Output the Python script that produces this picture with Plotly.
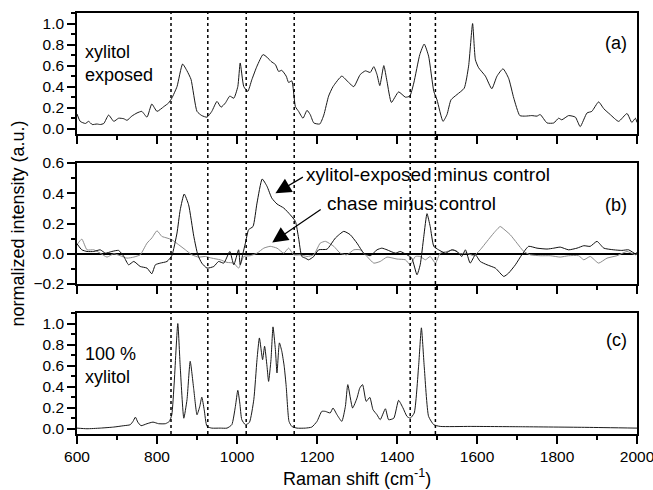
import plotly.graph_objects as go
from plotly.subplots import make_subplots

# ---------------- data ----------------
# (a) xylitol exposed
a_x = [600, 608, 621, 629, 638, 650, 658, 667, 679, 692, 704, 717, 725, 737, 750, 762, 775, 787, 800, 817,
       829, 837, 850, 864, 875, 885, 900, 912, 925, 937, 950, 960, 971, 982, 992, 1002, 1008, 1017, 1027, 1037,
       1050, 1065, 1075, 1085, 1096, 1104, 1112, 1123, 1129, 1137, 1146, 1154, 1165, 1175, 1183, 1192, 1207, 1217,
       1229, 1240, 1262, 1279, 1292, 1308, 1321, 1333, 1342, 1350, 1357, 1367, 1375, 1386, 1404, 1421, 1432, 1442,
       1457, 1468, 1479, 1492, 1500, 1515, 1525, 1535, 1550, 1568, 1579, 1589, 1596, 1604, 1621, 1637, 1650, 1665,
       1679, 1692, 1707, 1721, 1737, 1750, 1758, 1775, 1792, 1804, 1812, 1829, 1846, 1858, 1875, 1887, 1904, 1917,
       1933, 1954, 1975, 1987, 1996, 2000]
a_y = [0.14, 0.07, 0.05, 0.07, 0.04, 0.045, 0.04, 0.05, 0.13, 0.07, 0.10, 0.095, 0.08, 0.12, 0.15, 0.165, 0.11, 0.235, 0.165, 0.21,
       0.245, 0.29, 0.40, 0.615, 0.55, 0.47, 0.165, 0.125, 0.11, 0.165, 0.26, 0.205, 0.245, 0.31, 0.29, 0.40, 0.625, 0.40, 0.355, 0.465,
       0.595, 0.705, 0.68, 0.64, 0.61, 0.545, 0.555, 0.50, 0.44, 0.455, 0.21, 0.165, 0.10, 0.175, 0.135, 0.055, 0.045, 0.13,
       0.31, 0.40, 0.50, 0.44, 0.40, 0.515, 0.55, 0.535, 0.59, 0.515, 0.41, 0.60, 0.45, 0.25, 0.35, 0.30, 0.31, 0.435,
       0.705, 0.805, 0.69, 0.355, 0.275, 0.07, 0.135, 0.275, 0.325, 0.385, 0.595, 1.0, 0.655, 0.58, 0.50, 0.38, 0.50, 0.57,
       0.48, 0.29, 0.125, 0.12, 0.125, 0.12, 0.135, 0.055, 0.055, 0.10, 0.085, 0.125, 0.11, 0.02, 0.15, 0.165, 0.255, 0.19,
       0.135, 0.07, 0.145, 0.06, 0.10, 0.06]

# (b) xylitol-exposed minus control
b1_x = [600, 612, 625, 642, 658, 671, 687, 704, 717, 729, 742, 758, 775, 787, 796, 808, 825, 837, 850, 858,
        868, 879, 892, 902, 912, 925, 942, 954, 967, 982, 992, 1004, 1008, 1015, 1021, 1029, 1040, 1050, 1063, 1075,
        1087, 1100, 1117, 1133, 1146, 1154, 1162, 1171, 1179, 1192, 1204, 1225, 1246, 1267, 1283, 1300, 1317, 1333,
        1350, 1362, 1375, 1396, 1408, 1425, 1437, 1450, 1458, 1467, 1475, 1483, 1492, 1504, 1521, 1537, 1550, 1562,
        1571, 1583, 1596, 1608, 1625, 1646, 1667, 1679, 1696, 1712, 1729, 1750, 1775, 1792, 1808, 1829, 1850, 1867,
        1883, 1900, 1917, 1942, 1962, 1979, 1996, 2000]
b1_y = [0.066, 0.026, 0.015, 0.015, 0.026, 0.004, 0.015, 0.022, -0.018, -0.073, -0.051, -0.084, -0.095, -0.132, -0.073, -0.062, -0.051, -0.013, 0.137, 0.29,
        0.395, 0.324, 0.115, -0.007, -0.062, -0.095, -0.084, -0.051, -0.062, 0.015, -0.073, 0.026, -0.073, 0.004, 0.07, 0.159, 0.18, 0.335, 0.494, 0.446,
        0.368, 0.329, 0.302, 0.258, 0.214, 0.104, -0.018, -0.029, -0.04, -0.018, 0.026, 0.03, 0.104, 0.148, 0.126, 0.07, 0.004, -0.013,
        0.026, 0.037, 0.026, 0.004, 0.015, -0.007, -0.029, -0.139, -0.073, 0.115, 0.265, 0.18, 0.049, 0.026, 0.004, 0.026, 0.015, -0.018,
        0.026, -0.062, -0.007, -0.051, -0.073, -0.095, -0.15, -0.128, -0.073, -0.007, 0.049, 0.037, 0.031, 0.037, 0.044, 0.026, 0.037, 0.053,
        0.049, 0.082, 0.037, 0.026, 0.022, 0.026, 0.0, 0.01]

# (b) chase minus control
b2_x = [600, 612, 625, 642, 658, 675, 692, 708, 725, 742, 758, 775, 787, 800, 812, 825, 837, 854, 871, 887,
        904, 921, 937, 958, 975, 992, 1004, 1017, 1033, 1050, 1067, 1083, 1100, 1117, 1129, 1142, 1158, 1175, 1192, 1208,
        1221, 1242, 1258, 1275, 1292, 1308, 1325, 1342, 1358, 1375, 1400, 1421, 1433, 1446, 1458, 1471, 1483, 1496, 1508,
        1525, 1542, 1558, 1575, 1592, 1608, 1625, 1642, 1658, 1667, 1683, 1700, 1717, 1733, 1758, 1783, 1808, 1829, 1854,
        1867, 1883, 1904, 1925, 1950, 1975, 1996, 2000]
b2_y = [0.06, 0.097, 0.026, 0.026, 0.004, -0.022, 0.0, -0.013, -0.029, -0.022, -0.007, 0.07, 0.104, 0.152, 0.115, 0.104, 0.093, 0.06, 0.026, -0.007,
        -0.022, -0.018, -0.029, -0.04, -0.057, -0.062, -0.095, -0.018, -0.013, 0.004, 0.037, 0.049, 0.037, 0.004, 0.037, -0.007, -0.007, -0.018, -0.007, 0.07,
        0.082, 0.049, 0.004, -0.007, 0.026, 0.026, -0.018, -0.062, -0.051, -0.022, -0.035, -0.04, -0.073, -0.018, -0.018, -0.04, -0.018, -0.062, 0.004,
        0.015, 0.026, 0.0, 0.004, -0.013, 0.026, 0.082, 0.137, 0.18, 0.163, 0.126, 0.07, 0.015, -0.007, -0.013, -0.013, -0.022, -0.013, -0.013,
        -0.04, -0.018, -0.062, -0.029, -0.013, 0.015, -0.007, 0.0]

# (c) 100 % xylitol
c_x = [600, 625, 658, 692, 717, 733, 740, 746, 752, 760, 775, 790, 804, 821, 831, 837, 843, 852, 858, 867,
       875, 883, 892, 900, 907, 912, 918, 925, 937, 958, 975, 987, 996, 1002, 1007, 1012, 1021, 1031, 1042, 1050,
       1056, 1064, 1069, 1075, 1079, 1085, 1090, 1096, 1100, 1106, 1112, 1118, 1123, 1130, 1137, 1150, 1171, 1187, 1200,
       1212, 1221, 1233, 1240, 1250, 1262, 1271, 1277, 1289, 1300, 1307, 1314, 1323, 1332, 1340, 1350, 1358, 1371, 1379,
       1392, 1404, 1415, 1425, 1433, 1443, 1454, 1461, 1468, 1479, 1492, 1508, 1583, 1708, 1875, 2000]
c_y = [0.006, 0.0, 0.006, 0.016, 0.029, 0.038, 0.07, 0.11, 0.063, 0.029, 0.048, 0.063, 0.048, 0.048, 0.07, 0.133, 0.435, 1.0, 0.594, 0.10,
       0.276, 0.641, 0.371, 0.133, 0.213, 0.30, 0.181, 0.022, 0.006, 0.006, 0.006, 0.038, 0.213, 0.365, 0.244, 0.086, 0.038, 0.06, 0.276, 0.657,
       0.863, 0.657, 0.784, 0.594, 0.45, 0.657, 0.968, 0.752, 0.53, 0.816, 0.737, 0.594, 0.403, 0.07, 0.022, 0.006, 0.006, 0.016, 0.07,
       0.165, 0.165, 0.15, 0.197, 0.133, 0.07, 0.213, 0.419, 0.197, 0.292, 0.387, 0.419, 0.26, 0.298, 0.181, 0.133, 0.086, 0.19, 0.086,
       0.10, 0.27, 0.197, 0.117, 0.10, 0.149, 0.594, 0.959, 0.594, 0.117, 0.038, 0.022, 0.022, 0.019, 0.013, 0.006]

marker_lines = [835, 927, 1023, 1143, 1433, 1496]
x_ticks = [600, 800, 1000, 1200, 1400, 1600, 1800, 2000]

FONT = "Arial, Liberation Sans, sans-serif"

fig = make_subplots(rows=3, cols=1, shared_xaxes=False, vertical_spacing=29/421)

line_kw = dict(shape="spline", smoothing=0.5)
fig.add_trace(go.Scatter(x=a_x, y=a_y, mode="lines", line=dict(color="#1a1a1a", width=1, **line_kw), showlegend=False), row=1, col=1)
fig.add_trace(go.Scatter(x=b2_x, y=b2_y, mode="lines", line=dict(color="#8c8c8c", width=1, **line_kw), showlegend=False), row=2, col=1)
fig.add_trace(go.Scatter(x=b1_x, y=b1_y, mode="lines", line=dict(color="#111111", width=1, **line_kw), showlegend=False), row=2, col=1)
fig.add_trace(go.Scatter(x=c_x, y=c_y, mode="lines", line=dict(color="#1a1a1a", width=1, **line_kw), showlegend=False), row=3, col=1)

ax_common = dict(showline=True, mirror=True, linecolor="black", linewidth=1.5,
                 ticks="outside", tickcolor="black", tickwidth=1.5, showgrid=False, automargin=False,
                 ticklabeloverflow="allow",
                 tickfont=dict(family=FONT, size=15.5, color="black"))

for r in (1, 2, 3):
    fig.update_xaxes(range=[600, 2000], tickmode="array", tickvals=x_ticks, ticklen=8,
                     showticklabels=(r == 3), zeroline=False,
                     minor=dict(dtick=100, ticks="outside", ticklen=4.5, tickcolor="black", tickwidth=1.5),
                     row=r, col=1, **ax_common)

for r in (1, 3):
    fig.update_yaxes(range=[-0.05, 1.1], tickmode="linear", tick0=0, dtick=0.2, tickformat=".1f",
                     ticklen=8, zeroline=False,
                     minor=dict(dtick=0.1, tick0=0, ticks="outside", ticklen=4.5, tickcolor="black", tickwidth=1.5),
                     row=r, col=1, **ax_common)
fig.update_yaxes(range=[-0.2, 0.6], tickmode="linear", tick0=0, dtick=0.2, tickformat=".1f",
                 ticklen=8, zeroline=True, zerolinecolor="black", zerolinewidth=1.5,
                 minor=dict(dtick=0.1, tick0=0, ticks="outside", ticklen=4.5, tickcolor="black", tickwidth=1.5),
                 row=2, col=1, **ax_common)

for xv in marker_lines:
    fig.add_shape(type="line", xref="x3", yref="paper", x0=xv, x1=xv, y0=0, y1=1,
                  line=dict(color="black", width=1.5, dash="dot"))

ann_font = dict(family=FONT, size=18, color="black")
lbl_font = dict(family=FONT, size=19, color="black")
anns = [
    dict(xref="x domain", yref="y domain", x=0.985, y=0.75, text="(a)", xanchor="right", yanchor="middle", showarrow=False, font=ann_font),
    dict(xref="x2 domain", yref="y2 domain", x=0.985, y=0.65, text="(b)", xanchor="right", yanchor="middle", showarrow=False, font=ann_font),
    dict(xref="x3 domain", yref="y3 domain", x=0.985, y=0.78, text="(c)", xanchor="right", yanchor="middle", showarrow=False, font=ann_font),
    dict(xref="x domain", yref="y domain", x=0.01, y=0.58, text="xylitol<br>exposed", xanchor="left", yanchor="middle", align="left", showarrow=False, font=ann_font),
    dict(xref="x3 domain", yref="y3 domain", x=0.01, y=0.57, text="100 %<br>xylitol", xanchor="left", yanchor="middle", align="left", showarrow=False, font=ann_font),
    dict(xref="x2", yref="y2", x=1167, y=0.525, text="xylitol-exposed minus control", xanchor="left", yanchor="middle", showarrow=False, font=lbl_font),
    dict(xref="x2", yref="y2", x=1219, y=0.33, text="chase minus control", xanchor="left", yanchor="middle", showarrow=False, font=lbl_font),
    dict(xref="x2", yref="y2", x=1096, y=0.40, ax=29, ay=-17, text="", showarrow=True,
         arrowhead=2, arrowsize=2.6, arrowwidth=1.2, arrowcolor="black"),
    dict(xref="x2", yref="y2", x=1088, y=0.075, ax=50, ay=-34, text="", showarrow=True,
         arrowhead=2, arrowsize=2.6, arrowwidth=1.2, arrowcolor="black"),
    dict(xref="paper", yref="paper", x=0.5, y=-0.104, text="Raman shift (cm<sup>-1</sup>)", xanchor="center", yanchor="middle",
         showarrow=False, font=ann_font),
    dict(xref="paper", yref="paper", x=-0.107, y=0.5, text="normalized intensity (a.u.)", textangle=-90, xanchor="center",
         yanchor="middle", showarrow=False, font=ann_font),
]
for a in anns:
    fig.add_annotation(**a)

fig.update_layout(width=653, height=490, margin=dict(l=77, r=16, t=13, b=56, autoexpand=False),
                  paper_bgcolor="white", plot_bgcolor="white", font=dict(family=FONT, color="black"))

fig.write_html("out.html", config={"displayModeBar": False},
               post_script="document.body.style.margin='0';document.body.style.overflow='hidden';")
